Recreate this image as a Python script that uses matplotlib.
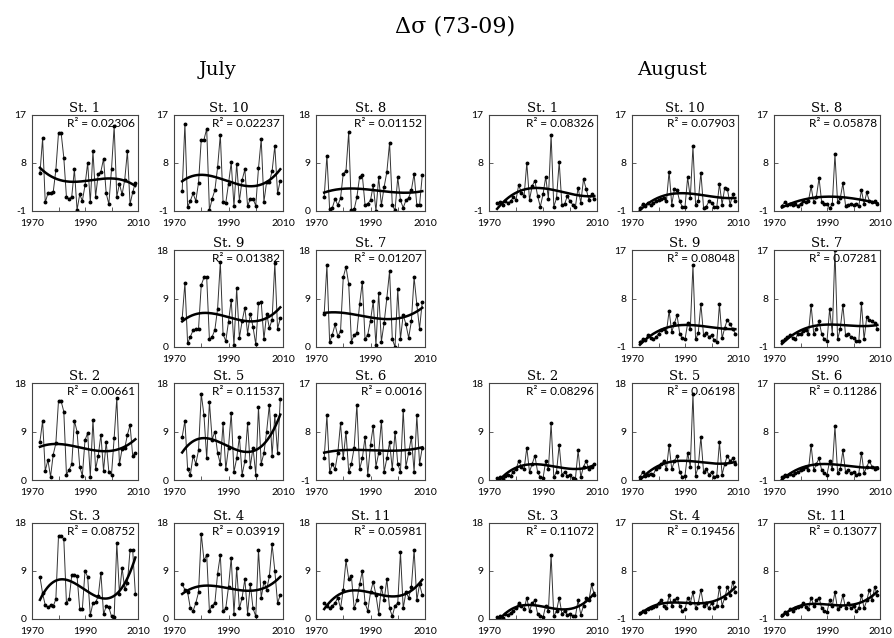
import numpy as np
import matplotlib
matplotlib.use("Agg")
import matplotlib.pyplot as plt

# ---------------- data ----------------
years = list(range(1973, 2010))

# July
jul_st1 = [6.1, 12.6, 0.6, 2.3, 2.3, 2.5, 6.7, 13.6, 13.6, 9.0, 1.6, 1.3, 1.7, 6.8, -0.8, 2.1, 0.9, 3.8, 8.0, 0.6,
           10.2, 1.7, 5.9, 6.4, 8.8, 2.3, 0.3, 6.8, 14.9, 1.7, 4.1, 2.1, 4.9, 10.2, 0.3, 2.5, 4.3]
jul_st10 = [2.7, 15.4, -0.2, 0.9, 2.3, 0.9, 4.3, 12.4, 12.4, 14.4, -0.9, 1.3, 2.9, 7.2, 13.3, 0.7, 0.5, 4.1, 8.1, -0.1,
            7.9, 0.9, 4.8, 6.8, -0.1, 1.3, 1.3, 0.0, 7.0, 12.5, 0.7, 4.5, 4.4, 6.5, 11.2, 2.3, 4.7]
jul_st8 = [2.6, 10.4, 0.3, 0.6, 2.3, 1.1, 2.4, 7.0, 7.5, 14.8, 0.1, 0.3, 2.6, 6.4, 6.7, 1.1, 1.4, 2.0, 4.8, 0.0,
           6.3, 1.1, 4.5, 7.3, 12.8, 1.1, 0.1, 6.3, 2.0, 0.6, 2.0, 2.5, 3.9, 7.0, 1.1, 1.1, 6.7]
jul_st9 = [5.3, 11.9, 0.7, 1.9, 3.1, 3.4, 3.4, 11.5, 12.9, 12.9, 1.4, 1.9, 3.2, 7.1, 15.8, 2.4, 1.1, 4.7, 8.7, 0.3,
           10.9, 1.7, 4.8, 7.3, 2.5, 6.2, 3.7, 0.5, 8.1, 8.4, 1.4, 6.2, 3.5, 5.1, 15.6, 3.4, 5.3]
jul_st7 = [6.1, 15.2, 0.9, 2.3, 4.2, 2.0, 2.9, 12.9, 14.9, 11.7, 1.0, 2.2, 2.6, 7.9, 12.1, 1.4, 2.3, 4.9, 8.5, 0.3,
           10.1, 1.0, 4.5, 9.1, 14.1, 1.5, 0.0, 10.7, 1.5, 6.0, 4.2, 1.7, 4.8, 12.9, 7.9, 3.4, 8.4]
jul_st2 = [7.1, 11.0, 1.7, 3.7, 0.6, 4.7, 6.8, 14.7, 14.6, 12.7, 1.0, 1.9, 2.9, 11.0, 9.0, 2.5, 0.8, 7.4, 8.7, 0.6,
           11.2, 2.0, 4.5, 8.4, 1.7, 7.1, 1.5, 1.0, 7.8, 15.2, 2.9, 5.8, 5.9, 8.4, 10.2, 4.5, 5.1]
jul_st5 = [8.0, 11.0, 2.0, 1.0, 4.5, 3.0, 5.5, 16.0, 12.0, 4.0, 14.5, 7.5, 9.0, 5.0, 3.0, 10.5, 2.0, 6.0, 12.5, 1.5,
           4.0, 8.0, 1.0, 3.5, 10.5, 2.5, 6.0, 1.0, 13.5, 3.0, 5.0, 9.0, 14.0, 4.5, 12.0, 5.0, 15.0]
jul_st6 = [3.0, 11.0, 0.5, 2.0, 1.0, 4.0, 9.5, 3.0, 8.0, 0.5, 2.0, 5.0, 13.0, 1.0, 3.0, 7.0, 0.0, 5.5, 9.0, 1.5,
           4.0, 10.0, 0.5, 3.0, 6.0, 1.0, 8.0, 2.0, 0.5, 12.0, 1.5, 4.0, 7.0, 0.5, 11.0, 2.0, 5.0]
jul_st3 = [7.9, 4.8, 2.6, 2.2, 2.6, 2.4, 3.7, 15.6, 15.6, 15.0, 3.0, 3.7, 8.2, 8.2, 8.1, 1.9, 1.9, 9.0, 7.9, 0.7,
           3.0, 3.1, 4.3, 8.7, 0.9, 2.4, 2.2, 0.5, 0.3, 14.3, 4.7, 9.6, 5.6, 6.8, 12.9, 12.9, 4.7]
jul_st4 = [6.5, 5.5, 5.0, 2.0, 1.5, 3.0, 5.0, 16.0, 11.0, 12.0, 1.5, 2.5, 3.0, 8.5, 12.0, 1.5, 2.0, 6.0, 11.5, 1.0,
           9.5, 2.0, 4.0, 7.5, 1.0, 6.5, 2.0, 0.5, 13.0, 4.0, 7.0, 5.5, 8.0, 14.0, 9.0, 3.0, 4.5]
jul_st11 = [3.0, 2.5, 2.0, 2.5, 3.0, 4.0, 2.0, 5.5, 11.0, 7.5, 8.0, 2.0, 3.5, 6.5, 9.0, 3.0, 1.5, 5.0, 7.0, 4.5,
            1.0, 6.0, 3.5, 7.5, 2.0, 0.5, 2.5, 3.0, 12.5, 2.0, 5.0, 4.0, 6.0, 13.0, 3.5, 6.5, 4.5]

# August
aug_st1 = [0.5, 0.7, 0.2, 0.8, 0.5, 0.8, 1.6, 1.1, 3.9, 2.4, 1.8, 8.0, 1.1, 3.7, 4.7, 1.8, -0.2, 2.1, 5.4, 1.3,
           13.3, -0.2, 1.4, 8.2, 0.2, 0.3, 1.8, 0.8, 0.2, -0.2, 3.4, 0.5, 5.0, 3.1, 1.1, 2.1, 1.3]
aug_st10 = [-0.5, 0.3, 0.0, 0.5, 0.2, 0.5, 0.8, 1.1, 1.3, 1.5, 0.9, 6.4, 0.2, 3.1, 2.9, 0.8, -0.2, -0.2, 5.3, 1.5,
            11.1, 0.2, 0.8, 6.2, -0.4, -0.2, 0.8, 0.5, -0.2, -0.2, 4.1, 0.2, 3.4, 3.1, 0.2, 2.1, 0.9]
aug_st8 = [0.0, 0.6, 0.2, 0.3, 0.2, 0.3, 0.0, 0.4, 0.8, 0.6, 0.9, 3.6, 0.6, 1.7, 5.2, 0.6, 0.4, 0.3, -0.5, 0.3,
           9.6, 0.6, 1.4, 4.2, 0.0, 0.2, 0.3, 0.2, 0.3, 0.0, 2.9, 0.3, 2.5, 0.8, 0.6, 0.8, 0.3]
aug_st9 = [0.0, 0.4, 0.3, 1.2, 0.6, 0.4, 0.8, 1.5, 2.1, 2.4, 1.8, 5.7, 1.8, 3.4, 4.9, 1.5, 0.6, 0.4, 3.4, 2.4,
           14.2, 0.4, 1.6, 7.0, 1.2, 1.6, 0.9, 1.2, 0.3, 0.0, 7.0, 0.6, 2.6, 4.1, 3.2, 2.4, 1.5]
aug_st7 = [0.2, 0.4, 0.9, 1.2, 0.7, 0.4, 1.4, 1.5, 2.0, 2.2, 1.5, 6.8, 1.4, 2.4, 3.8, 1.4, 0.4, 0.1, 6.1, 1.5,
           17.0, 0.4, 2.4, 6.8, 1.2, 1.5, 0.9, 0.7, 0.2, 0.1, 7.1, 0.4, 4.6, 4.0, 3.8, 3.5, 2.4]
aug_st2 = [0.3, 0.5, 0.2, 0.8, 1.0, 0.8, 1.5, 2.0, 3.5, 2.5, 2.0, 6.0, 1.5, 3.0, 4.5, 1.5, 0.5, 0.3, 3.5, 2.0,
           10.5, 0.5, 1.5, 6.5, 1.0, 1.5, 0.8, 1.0, 0.3, 0.2, 5.5, 0.5, 2.5, 3.5, 2.0, 2.5, 3.0]
aug_st5 = [0.5, 1.5, 0.8, 1.0, 1.2, 1.0, 2.0, 2.5, 3.0, 3.5, 2.0, 6.5, 2.0, 3.5, 4.5, 1.5, 0.5, 0.8, 5.0, 2.5,
           16.0, 0.8, 2.5, 8.0, 1.5, 2.0, 1.0, 1.5, 0.5, 0.8, 7.0, 1.0, 3.0, 4.5, 3.5, 4.0, 3.0]
aug_st6 = [-0.5, 0.0, -0.3, 0.2, 0.0, 0.3, 0.5, 0.8, 1.0, 1.5, 0.8, 5.5, 0.8, 2.0, 3.0, 0.8, 0.3, 0.0, 2.5, 1.0,
           9.0, 0.3, 1.0, 4.5, 0.5, 0.8, 0.3, 0.5, 0.0, 0.2, 4.0, 0.3, 1.5, 2.5, 1.5, 1.0, 1.2]
aug_st3 = [0.3, 0.5, 0.2, 1.0, 0.8, 1.2, 1.5, 2.0, 3.0, 2.5, 1.8, 4.0, 1.5, 3.0, 3.5, 1.0, 0.5, 0.3, 2.5, 1.5,
           12.0, 0.5, 1.5, 4.0, 1.0, 1.5, 0.8, 1.0, 0.5, 0.5, 3.5, 0.8, 2.5, 4.0, 3.5, 6.5, 4.5]
aug_st4 = [0.2, 0.5, 0.3, 0.8, 1.0, 1.2, 1.5, 2.0, 2.5, 1.5, 1.0, 3.5, 1.5, 2.5, 3.0, 1.5, 0.5, 0.8, 3.0, 2.0,
           4.0, 1.0, 2.0, 4.5, 1.5, 2.0, 1.0, 2.0, 1.0, 1.5, 5.0, 1.5, 3.0, 5.0, 3.5, 6.0, 4.0]
aug_st11 = [-0.3, 0.3, 0.0, 0.8, 0.5, 1.0, 1.2, 1.5, 2.0, 1.2, 0.8, 3.0, 1.5, 2.5, 3.0, 1.0, 0.5, 0.3, 2.5, 1.5,
            4.0, 0.8, 1.5, 3.5, 1.0, 2.0, 1.0, 1.5, 0.5, 1.0, 3.5, 1.0, 2.5, 4.5, 2.5, 5.0, 3.5]

# panel titles, R² labels and y-axis tick labels
jul_titles = ["St. 1", "St. 10", "St. 8", "St. 9", "St. 7", "St. 2", "St. 5", "St. 6", "St. 3", "St. 4", "St. 11"]
jul_r2 = ["0.02306", "0.02237", "0.01152", "0.01382", "0.01207", "0.00661", "0.11537", "0.0016",
          "0.08752", "0.03919", "0.05981"]
jul_yticks = [[-1, 8, 17], [-1, 8, 17], [0, 9, 18], [0, 9, 18], [0, 9, 18], [0, 9, 18], [0, 9, 18],
              [-1, 8, 17], [0, 9, 18], [0, 9, 18], [0, 9, 18]]
aug_titles = ["St. 1", "St. 10", "St. 8", "St. 9", "St. 7", "St. 2", "St. 5", "St. 6", "St. 3", "St. 4", "St. 11"]
aug_r2 = ["0.08326", "0.07903", "0.05878", "0.08048", "0.07281", "0.08296", "0.06198", "0.11286",
          "0.11072", "0.19456", "0.13077"]
aug_yticks = [[-1, 8, 17], [-1, 8, 17], [-1, 8, 17], [-1, 8, 17], [-1, 8, 17], [0, 9, 18], [0, 9, 18],
              [-1, 8, 17], [0, 9, 18], [-1, 8, 17], [-1, 8, 17]]
xtick_labels = [1970, 1990, 2010]

jul_series = [jul_st1, jul_st10, jul_st8, jul_st9, jul_st7, jul_st2, jul_st5, jul_st6, jul_st3, jul_st4, jul_st11]
aug_series = [aug_st1, aug_st10, aug_st8, aug_st9, aug_st7, aug_st2, aug_st5, aug_st6, aug_st3, aug_st4, aug_st11]

for s in jul_series + aug_series:
    assert len(s) == len(years), len(s)

# ---------------- layout ----------------
W, H = 895, 638
fig = plt.figure(figsize=(W / 100, H / 100), dpi=100)
fig.patch.set_facecolor("white")

rows = [(115, 211), (250, 347), (383, 480), (523, 619)]
jul_cols = [(32, 138), (174, 283), (316, 425)]
aug_cols = [(489, 597), (632, 738), (774, 880)]
# (row, col) of the 11 panels in each month block
slots = [(0, 0), (0, 1), (0, 2), (1, 1), (1, 2), (2, 0), (2, 1), (2, 2), (3, 0), (3, 1), (3, 2)]

SANS = ["Lato", "DejaVu Sans"]
SERIF = ["DejaVu Serif"]


def rect(l, t, r, b):
    return [l / W, 1 - b / H, (r - l) / W, (b - t) / H]


def draw_panel(col_pos, slot, vals, title, r2, yt):
    r, c = slot
    t, b = rows[r]
    l, rr = col_pos[c]
    ax = fig.add_axes(rect(l, t, rr, b))
    yr = np.array(years, dtype=float)
    v = np.array(vals, dtype=float)
    ax.plot(yr, v, color="#333333", lw=0.7, marker="o", ms=1.8, mfc="black", mec="black", zorder=2)
    coef = np.polyfit(yr - 1973, v, 3)
    xs = np.linspace(1973, 2009, 200)
    ax.plot(xs, np.polyval(coef, xs - 1973), color="black", lw=1.8, zorder=3)
    ax.set_xlim(1970, 2010)
    ax.set_ylim(yt[0], yt[2])
    ax.set_yticks(yt)
    ax.set_yticklabels([str(x) for x in yt], fontsize=7.5, family=SANS)
    ax.set_xticks(xtick_labels)
    ax.set_xticklabels([str(x) for x in xtick_labels], fontsize=7.5, family=SANS)
    ax.set_xticks([1980, 2000], minor=True)
    ax.tick_params(axis="both", which="both", direction="in", length=3, width=0.6, color="#444444")
    ax.tick_params(axis="y", pad=4)
    ax.tick_params(axis="x", pad=6)
    for sp in ax.spines.values():
        sp.set_linewidth(0.8)
        sp.set_color("#444444")
    ax.text(0.975, 0.97, "R\u00b2 = " + r2, transform=ax.transAxes, ha="right", va="top",
            fontsize=8.5, family=SANS)
    ax.set_title(title, fontsize=9.5, family=SERIF, pad=2)
    return ax


for i in range(11):
    draw_panel(jul_cols, slots[i], jul_series[i], jul_titles[i], jul_r2[i], jul_yticks[i])
    draw_panel(aug_cols, slots[i], aug_series[i], aug_titles[i], aug_r2[i], aug_yticks[i])

fig.text(455 / W, 1 - 27 / H, "\u0394\u03c3 (73-09)", ha="center", va="center", fontsize=16, family=SERIF)
fig.text(218 / W, 1 - 70 / H, "July", ha="center", va="center", fontsize=14, family=SERIF)
fig.text(672 / W, 1 - 70 / H, "August", ha="center", va="center", fontsize=14, family=SERIF)

fig.savefig("out.png", dpi=100, facecolor="white")
